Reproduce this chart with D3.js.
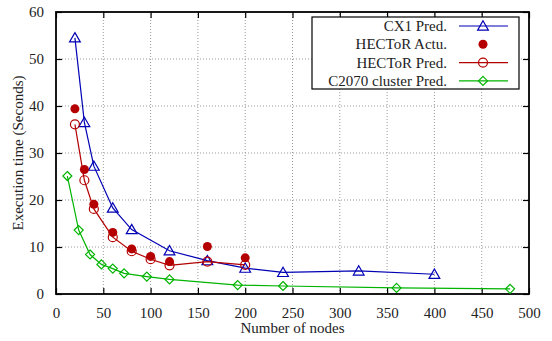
<!DOCTYPE html>
<html>
<head>
<meta charset="utf-8">
<script src="https://cdn.jsdelivr.net/npm/d3@7"></script>
<style>
  body { margin: 0; background: #fff; }
  text { font-family: "Liberation Serif", "DejaVu Serif", serif; }
</style>
</head>
<body>
<div id="chart"></div>
<script>
// data
const cx1X = [20, 30, 40, 60, 80, 120, 160, 200, 240, 320, 400];
const cx1Y = [54.5, 36.5, 27.2, 18.3, 13.7, 9.2, 7.1, 5.5, 4.6, 4.9, 4.2];
const hecActX = [20, 30, 40, 60, 80, 100, 120, 160, 200];
const hecActY = [39.4, 26.5, 19.1, 13.1, 9.6, 8.0, 6.9, 10.1, 7.7];
const hecPredX = [20, 30, 40, 60, 80, 100, 120, 160, 200];
const hecPredY = [36.1, 24.2, 18.1, 12.1, 9.1, 7.4, 6.1, 6.9, 6.2];
const gpuX = [12, 24, 36, 48, 60, 72, 96, 120, 192, 240, 360, 480];
const gpuY = [25.1, 13.6, 8.4, 6.3, 5.4, 4.4, 3.7, 3.1, 1.9, 1.7, 1.3, 1.1];
const xTicks = [0, 50, 100, 150, 200, 250, 300, 350, 400, 450, 500];
const yTicks = [0, 10, 20, 30, 40, 50, 60];
const legendLabels = ["CX1 Pred.", "HECToR Actu.", "HECToR Pred.", "C2070 cluster Pred."];

const width = 552, height = 341;
const margin = {top: 12, right: 23, bottom: 47, left: 56};
const blue = "#0000b4", red = "#b40000", green = "#00b400";

const svg = d3.select("#chart").append("svg")
  .attr("width", width).attr("height", height);

const x = d3.scaleLinear().domain([0, 500]).range([margin.left, width - margin.right]);
const y = d3.scaleLinear().domain([0, 60]).range([height - margin.bottom, margin.top]);

// grid
svg.append("g").selectAll("line.gx")
  .data(xTicks.slice(1, -1)).enter().append("line")
  .attr("x1", d => x(d)).attr("x2", d => x(d))
  .attr("y1", y(0)).attr("y2", y(60))
  .attr("stroke", "#999").attr("stroke-width", 1).attr("stroke-dasharray", "1,2");
svg.append("g").selectAll("line.gy")
  .data(yTicks.slice(1, -1)).enter().append("line")
  .attr("x1", x(0)).attr("x2", x(500))
  .attr("y1", d => y(d)).attr("y2", d => y(d))
  .attr("stroke", "#999").attr("stroke-width", 1).attr("stroke-dasharray", "1,2");

// axes with inward ticks on all sides
const fs = "15px";
const axB = svg.append("g").attr("transform", `translate(0,${y(0)})`)
  .call(d3.axisBottom(x).tickValues(xTicks).tickSize(-6).tickPadding(13));
const axL = svg.append("g").attr("transform", `translate(${x(0)},0)`)
  .call(d3.axisLeft(y).tickValues(yTicks).tickSize(-6).tickPadding(12));
const axT = svg.append("g").attr("transform", `translate(0,${y(60)})`)
  .call(d3.axisTop(x).tickValues(xTicks).tickSize(-6).tickFormat(""));
const axR = svg.append("g").attr("transform", `translate(${x(500)},0)`)
  .call(d3.axisRight(y).tickValues(yTicks).tickSize(-6).tickFormat(""));
[axB, axL, axT, axR].forEach(g => {
  g.select(".domain").remove();
  g.selectAll(".tick line").attr("stroke", "#000").attr("stroke-width", 1.2);
  g.selectAll("text").attr("fill", "#222").style("font-size", fs)
    .style("font-family", "'Liberation Serif', serif");
});

svg.append("rect")
  .attr("x", x(0)).attr("y", y(60))
  .attr("width", x(500) - x(0)).attr("height", y(0) - y(60))
  .attr("fill", "none").attr("stroke", "#000").attr("stroke-width", 1.8);

// axis titles
svg.append("text")
  .attr("x", (x(0) + x(500)) / 2).attr("y", 333)
  .attr("text-anchor", "middle").style("font-size", fs).attr("fill", "#222")
  .text("Number of nodes");
svg.append("text")
  .attr("transform", `translate(23,${(y(0) + y(60)) / 2}) rotate(-90)`)
  .attr("text-anchor", "middle").style("font-size", fs).attr("fill", "#222")
  .text("Execution time (Seconds)");

// markers
const tri = d3.symbol().type(d3.symbolTriangle).size(50);

function drawMarker(g, kind, color, px, py) {
  if (kind === "tri") {
    g.append("path").attr("d", tri()).attr("transform", `translate(${px},${py + 1})`)
      .attr("fill", "none").attr("stroke", color).attr("stroke-width", 1.2);
  } else if (kind === "dot") {
    g.append("circle").attr("cx", px).attr("cy", py).attr("r", 4.5).attr("fill", color);
  } else if (kind === "circ") {
    g.append("circle").attr("cx", px).attr("cy", py).attr("r", 4.5)
      .attr("fill", "none").attr("stroke", color).attr("stroke-width", 1.2);
  } else if (kind === "dia") {
    const r = 4.5;
    g.append("path").attr("d", `M0,${-r}L${r},0L0,${r}L${-r},0Z`)
      .attr("transform", `translate(${px},${py})`)
      .attr("fill", "none").attr("stroke", color).attr("stroke-width", 1.2);
  }
}

const series = [
  {xs: cx1X, ys: cx1Y, color: blue, kind: "tri", line: true},
  {xs: hecActX, ys: hecActY, color: red, kind: "dot", line: false},
  {xs: hecPredX, ys: hecPredY, color: red, kind: "circ", line: true},
  {xs: gpuX, ys: gpuY, color: green, kind: "dia", line: true}
];

const line = d3.line().x(d => x(d[0])).y(d => y(d[1]));
series.forEach(s => {
  const pts = s.xs.map((v, i) => [v, s.ys[i]]);
  const g = svg.append("g");
  if (s.line) {
    g.append("path").datum(pts).attr("d", line)
      .attr("fill", "none").attr("stroke", s.color).attr("stroke-width", 1.2);
  }
  pts.forEach(p => drawMarker(g, s.kind, s.color, x(p[0]), y(p[1])));
});

// legend
const lg = svg.append("g");
lg.append("rect").attr("x", 312).attr("y", 17).attr("width", 207).attr("height", 72)
  .attr("fill", "#fff").attr("stroke", "#000").attr("stroke-width", 1.2);
legendLabels.forEach((lab, i) => {
  const ly = 26 + i * 18.3;
  const s = series[i];
  lg.append("text").attr("x", 447).attr("y", ly + 5).attr("text-anchor", "end")
    .style("font-size", fs).attr("fill", "#222").text(lab);
  if (s.line) {
    lg.append("line").attr("x1", 459).attr("x2", 508).attr("y1", ly).attr("y2", ly)
      .attr("stroke", s.color).attr("stroke-width", 1.2);
  }
  drawMarker(lg, s.kind, s.color, 483, ly);
});
</script>
</body>
</html>
